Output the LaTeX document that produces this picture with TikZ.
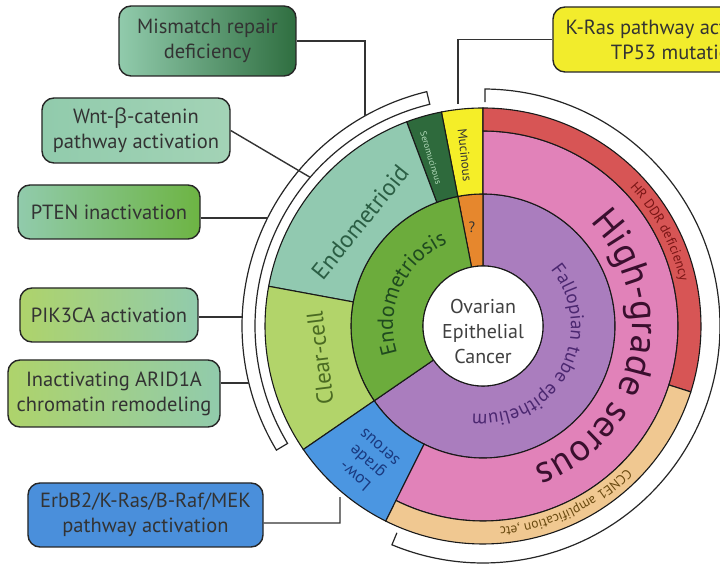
\documentclass[tikz,border=0pt]{standalone}
\usepackage{fontspec}
\setmainfont{PT Sans}
\newfontfamily\grk{Open Sans}
\usetikzlibrary{decorations.text,calc}
\definecolor{cEndo}{HTML}{91C9B0}
\definecolor{cSero}{HTML}{2E6A3C}
\definecolor{cMuc}{HTML}{F5EE28}
\definecolor{cOra}{HTML}{E6872D}
\definecolor{cEsis}{HTML}{6CAC3C}
\definecolor{cClear}{HTML}{B2D46A}
\definecolor{cBlue}{HTML}{4B96E1}
\definecolor{cPurp}{HTML}{AA7DBE}
\definecolor{cPink}{HTML}{E182B9}
\definecolor{cRed}{HTML}{D75555}
\definecolor{cTan}{HTML}{F0C891}
\definecolor{tEndo}{HTML}{2B5E44}
\definecolor{tClear}{HTML}{4A6A22}
\definecolor{tEsis}{HTML}{1F4A1F}
\definecolor{tFal}{HTML}{4B2770}
\definecolor{tHG}{HTML}{3A0F2E}
\definecolor{tHR}{HTML}{7A1515}
\definecolor{tCC}{HTML}{6A4A10}
\definecolor{tLow}{HTML}{1A3A80}
\definecolor{tSero}{HTML}{B5DDBD}
\definecolor{bTeal}{HTML}{91CBAC}
\definecolor{bTealB}{HTML}{A3D3B6}
\definecolor{bDark}{HTML}{2F6E40}
\definecolor{bGreen}{HTML}{6DB443}
\definecolor{bLime}{HTML}{AED36B}
\definecolor{bBlue}{HTML}{4A8FDB}
\definecolor{bYel}{HTML}{F2EC2C}
\newcommand\ringsector[5]{%
  \filldraw[ring, fill=#1] ([shift={(#2:#4)}]C) arc[start angle=#2, end angle=#3, radius=#4]
   -- ([shift={(#3:#5)}]C) arc[start angle=#3, end angle=#2, radius=#5] -- cycle;}
\begin{document}
\begin{tikzpicture}[x=1bp,y=1bp,
  box/.style={draw=black!85, line width=1.4bp, rounded corners=12bp, align=center,
    font=\fontsize{20.5bp}{25bp}\selectfont, text=black!80, inner sep=0pt},
  link/.style={draw=black!80, line width=1.4bp},
  ring/.style={draw=black!90, line width=1.1bp},
  bracket/.style={draw=black!85, line width=1.2bp},
  lbl/.style={inner sep=0pt, align=center}]
\useasboundingbox (0,0) rectangle (720,570);
\fill[white] (0,0) rectangle (720,570);
\coordinate (C) at (483,244);
% inner ring
\ringsector{cPurp}{-145.5}{90}{60}{132}
\ringsector{cOra}{90}{101}{60}{132}
\ringsector{cEsis}{101}{214.5}{60}{132}
% outer ring
\ringsector{cMuc}{90}{101}{132}{218}
\ringsector{cSero}{101}{110.5}{132}{218}
\ringsector{cEndo}{110.5}{169.5}{132}{218}
\ringsector{cClear}{169.5}{214.5}{132}{218}
\ringsector{cBlue}{214.5}{243.5}{132}{218}
\ringsector{cPink}{-116.5}{90}{132}{195}
\ringsector{cRed}{-17.6}{90}{195}{218}
\ringsector{cTan}{-116.5}{-17.6}{195}{218}
\filldraw[ring, fill=white] (C) circle[radius=60];
\node[lbl, font=\fontsize{20bp}{25bp}\selectfont, text=black!75] (core) at (483,238) {Ovarian\\Epithelial\\Cancer};
% straight labels
\node[lbl, rotate=51, font=\fontsize{24bp}{24bp}\selectfont, text=tEndo] (lEndo) at (360,348) {Endometrioid};
\node[lbl, rotate=97, font=\fontsize{23bp}{23bp}\selectfont, text=tClear] (lClear) at (320,212) {Clear-cell};
\node[lbl, rotate=-84, font=\fontsize{13bp}{13bp}\selectfont, text=black!80] (lMuc) at (465,415) {Mucinous};
\node[lbl, rotate=-73, font=\fontsize{9bp}{9bp}\selectfont, text=tSero] (lSero) at (431,412) {Seromucinous};
\node[lbl, font=\fontsize{15bp}{15bp}\selectfont, text=black!80] (lQ) at (472,343) {?};
\node[lbl, rotate=139, font=\fontsize{17bp}{18.5bp}\selectfont, text=tLow] (lLow) at (367,108) {Low-\\grade\\serous};
% curved labels
\path[decorate, decoration={text along path, text align=center,
  text={|\fontsize{22bp}{22bp}\selectfont\color{tEsis}|Endometriosis}}]
  ([shift={(235.5:90)}]C) arc[start angle=235.5, end angle=75.5, radius=90];
\path[decorate, decoration={text along path, text align=center,
  text={|\fontsize{19bp}{19bp}\selectfont\color{tFal}|Fallopian tube epithelium}}]
  ([shift={(61.5:88)}]C) arc[start angle=61.5, end angle=-118.5, radius=88];
\path[decorate, decoration={text along path, text align=center,
  text={|\fontsize{38bp}{38bp}\selectfont\color{tHG}|High-grade serous}}]
  ([shift={(75:149)}]C) arc[start angle=75, end angle=-101, radius=149];
\path[decorate, decoration={text along path, text align=center,
  text={|\fontsize{13.5bp}{13.5bp}\selectfont\color{tHR}|HR DDR deficiency}}]
  ([shift={(60:202)}]C) arc[start angle=60, end angle=-4, radius=202];
\path[decorate, decoration={text along path, text align=center,
  text={|\fontsize{13.5bp}{13.5bp}\selectfont\color{tCC}|CCNE1 amplification ,etc}}]
  ([shift={(-25:202)}]C) arc[start angle=-25, end angle=-105, radius=202];
% brackets
\draw[bracket] ([shift={(103.5:241)}]C) arc[start angle=103.5, end angle=211, radius=241]
  -- ([shift={(211:228)}]C) arc[start angle=211, end angle=103.5, radius=228] -- cycle;
\draw[bracket] ([shift={(89.5:224)}]C) -- ([shift={(89.5:237)}]C)
  arc[start angle=89.5, end angle=-112.6, radius=237] -- ([shift={(-112.6:224)}]C);
% boxes
\node[box, left color=bTeal, right color=bDark, minimum width=177bp, minimum height=70bp] (mmr) at (207.5,529) {Mismatch repair\\deficiency};
\node[box, left color=bTeal, right color=bTealB, minimum width=188bp, minimum height=65bp] (wnt) at (136,439.5) {Wnt-{\grk β}-catenin\\pathway activation};
\node[box, left color=bTeal, right color=bGreen, minimum width=182bp, minimum height=54bp] (pten) at (109,358) {PTEN inactivation};
\node[box, left color=bLime, right color=bTeal, minimum width=178bp, minimum height=54bp] (pik) at (109,255) {PIK3CA activation};
\node[box, left color=bLime, right color=bTeal, minimum width=212bp, minimum height=67bp] (arid) at (114,176.5) {Inactivating ARID1A\\chromatin remodeling};
\node[box, fill=bBlue, minimum width=235bp, minimum height=64bp] (erb) at (145.5,55) {ErbB2/K-Ras/B-Raf/MEK\\pathway activation};
\node[box, fill=bYel, minimum width=246bp, minimum height=65bp] (kras) at (676,530.5) {K-Ras pathway activation\\TP53 mutation};
% connector ends
\coordinate (mmrend) at ([shift={(119.3:241)}]C);
\coordinate (wntend) at ([shift={(139.3:228)}]C);
\coordinate (ptenend) at ([shift={(153.4:241)}]C);
\coordinate (pikend) at ([shift={(177.9:241)}]C);
\coordinate (aridend) at ([shift={(193.7:241)}]C);
\coordinate (erbend) at ([shift={(230.1:223)}]C);
\coordinate (erbmid) at (340,47);
\coordinate (krasend) at ([shift={(96.44:223)}]C);
\draw[link] (mmr.east) -| (mmrend);
\draw[link] (wnt.east) -- (wntend);
\draw[link] (pten.east |- ptenend) -- (ptenend);
\draw[link] (pik.east |- pikend) -- (pikend);
\draw[link] (arid.east |- aridend) -- (aridend);
\draw[link] (erb.east |- erbmid) -- (erbmid) -- (erbend);
\draw[link] (kras.west) -| (krasend);
\end{tikzpicture}
\end{document}
